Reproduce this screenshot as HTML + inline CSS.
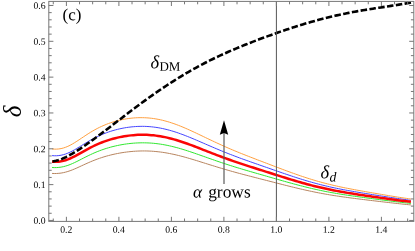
<!DOCTYPE html>
<html><head><meta charset="utf-8"><title>plot</title>
<style>
html,body{margin:0;padding:0;background:#fff;}
body{width:415px;height:251px;overflow:hidden;position:relative;font-family:"Liberation Serif",serif;}
svg{display:block;position:absolute;left:0;top:0}
svg.t{filter:grayscale(1)}
text{font-family:"Liberation Serif",serif;}
</style></head><body>
<svg width="415" height="251" viewBox="0 0 415 251">
<rect width="415" height="251" fill="#fff"/>
<path d="M52.05 173.43 L54.31 173.52 L56.57 173.49 L58.82 173.34 L61.08 173.07 L63.34 172.66 L65.60 172.13 L67.85 171.48 L70.11 170.73 L72.37 169.87 L74.62 168.94 L76.88 167.96 L79.14 166.93 L81.39 165.89 L83.65 164.85 L85.91 163.82 L88.16 162.80 L90.42 161.82 L92.68 160.88 L94.94 159.99 L97.19 159.13 L99.45 158.33 L101.71 157.58 L103.96 156.87 L106.22 156.20 L108.48 155.58 L110.73 155.00 L112.99 154.46 L115.25 153.96 L117.51 153.50 L119.76 153.08 L122.02 152.70 L124.28 152.35 L126.53 152.05 L128.79 151.78 L131.05 151.55 L133.30 151.35 L135.56 151.19 L137.82 151.07 L140.08 150.99 L142.33 150.95 L144.59 150.95 L146.85 150.98 L149.10 151.06 L151.36 151.17 L153.62 151.33 L155.87 151.52 L158.13 151.76 L160.39 152.03 L162.65 152.34 L164.90 152.68 L167.16 153.07 L169.42 153.49 L171.67 153.94 L173.93 154.42 L176.19 154.93 L178.44 155.48 L180.70 156.05 L182.96 156.64 L185.21 157.26 L187.47 157.90 L189.73 158.55 L191.99 159.22 L194.24 159.90 L196.50 160.59 L198.76 161.29 L201.01 162.00 L203.27 162.70 L205.53 163.41 L207.78 164.12 L210.04 164.83 L212.30 165.53 L214.56 166.23 L216.81 166.92 L219.07 167.61 L221.33 168.28 L223.58 168.96 L225.84 169.62 L228.10 170.27 L230.35 170.92 L232.61 171.55 L234.87 172.18 L237.13 172.80 L239.38 173.41 L241.64 174.01 L243.90 174.61 L246.15 175.20 L248.41 175.79 L250.67 176.37 L252.92 176.95 L255.18 177.53 L257.44 178.11 L259.69 178.69 L261.95 179.27 L264.21 179.85 L266.47 180.43 L268.72 181.01 L270.98 181.59 L273.24 182.17 L275.49 182.75 L277.75 183.33 L280.01 183.90 L282.26 184.48 L284.52 185.05 L286.78 185.62 L289.04 186.18 L291.29 186.74 L293.55 187.29 L295.81 187.84 L298.06 188.38 L300.32 188.91 L302.58 189.43 L304.83 189.94 L307.09 190.45 L309.35 190.94 L311.61 191.42 L313.86 191.89 L316.12 192.35 L318.38 192.79 L320.63 193.22 L322.89 193.65 L325.15 194.05 L327.40 194.45 L329.66 194.84 L331.92 195.21 L334.17 195.57 L336.43 195.92 L338.69 196.26 L340.95 196.60 L343.20 196.92 L345.46 197.23 L347.72 197.54 L349.97 197.84 L352.23 198.14 L354.49 198.43 L356.74 198.71 L359.00 198.99 L361.26 199.27 L363.52 199.55 L365.77 199.82 L368.03 200.10 L370.29 200.37 L372.54 200.64 L374.80 200.91 L377.06 201.17 L379.31 201.44 L381.57 201.71 L383.83 201.97 L386.09 202.23 L388.34 202.49 L390.60 202.75 L392.86 203.01 L395.11 203.26 L397.37 203.51 L399.63 203.76 L401.88 204.00 L404.14 204.24 L406.40 204.47 L408.65 204.69 L410.91 204.91" fill="none" stroke="#b8855f" stroke-width="1"/>
<path d="M52.05 167.49 L54.31 167.60 L56.57 167.58 L58.82 167.42 L61.08 167.12 L63.34 166.68 L65.60 166.09 L67.85 165.38 L70.11 164.54 L72.37 163.59 L74.62 162.56 L76.88 161.46 L79.14 160.33 L81.39 159.17 L83.65 158.01 L85.91 156.86 L88.16 155.74 L90.42 154.66 L92.68 153.61 L94.94 152.62 L97.19 151.68 L99.45 150.80 L101.71 149.96 L103.96 149.18 L106.22 148.45 L108.48 147.77 L110.73 147.13 L112.99 146.54 L115.25 146.00 L117.51 145.50 L119.76 145.05 L122.02 144.63 L124.28 144.26 L126.53 143.93 L128.79 143.65 L131.05 143.40 L133.30 143.20 L135.56 143.04 L137.82 142.92 L140.08 142.85 L142.33 142.81 L144.59 142.83 L146.85 142.88 L149.10 142.98 L151.36 143.12 L153.62 143.31 L155.87 143.54 L158.13 143.82 L160.39 144.13 L162.65 144.49 L164.90 144.90 L167.16 145.34 L169.42 145.82 L171.67 146.33 L173.93 146.89 L176.19 147.47 L178.44 148.09 L180.70 148.74 L182.96 149.41 L185.21 150.11 L187.47 150.84 L189.73 151.58 L191.99 152.33 L194.24 153.10 L196.50 153.88 L198.76 154.67 L201.01 155.47 L203.27 156.27 L205.53 157.06 L207.78 157.86 L210.04 158.66 L212.30 159.45 L214.56 160.24 L216.81 161.02 L219.07 161.79 L221.33 162.55 L223.58 163.31 L225.84 164.05 L228.10 164.79 L230.35 165.51 L232.61 166.23 L234.87 166.93 L237.13 167.63 L239.38 168.31 L241.64 168.99 L243.90 169.66 L246.15 170.32 L248.41 170.98 L250.67 171.64 L252.92 172.29 L255.18 172.94 L257.44 173.59 L259.69 174.24 L261.95 174.89 L264.21 175.53 L266.47 176.18 L268.72 176.83 L270.98 177.48 L273.24 178.13 L275.49 178.78 L277.75 179.42 L280.01 180.07 L282.26 180.71 L284.52 181.35 L286.78 181.98 L289.04 182.61 L291.29 183.23 L293.55 183.85 L295.81 184.46 L298.06 185.06 L300.32 185.65 L302.58 186.23 L304.83 186.80 L307.09 187.36 L309.35 187.91 L311.61 188.44 L313.86 188.97 L316.12 189.47 L318.38 189.97 L320.63 190.45 L322.89 190.92 L325.15 191.38 L327.40 191.82 L329.66 192.25 L331.92 192.66 L334.17 193.06 L336.43 193.46 L338.69 193.83 L340.95 194.20 L343.20 194.56 L345.46 194.91 L347.72 195.25 L349.97 195.59 L352.23 195.92 L354.49 196.24 L356.74 196.56 L359.00 196.87 L361.26 197.18 L363.52 197.49 L365.77 197.79 L368.03 198.10 L370.29 198.40 L372.54 198.70 L374.80 199.00 L377.06 199.29 L379.31 199.59 L381.57 199.88 L383.83 200.18 L386.09 200.47 L388.34 200.76 L390.60 201.04 L392.86 201.33 L395.11 201.61 L397.37 201.89 L399.63 202.16 L401.88 202.43 L404.14 202.69 L406.40 202.94 L408.65 203.19 L410.91 203.43" fill="none" stroke="#30e830" stroke-width="1"/>
<path d="M52.05 155.61 L54.31 155.76 L56.57 155.75 L58.82 155.57 L61.08 155.22 L63.34 154.70 L65.60 154.00 L67.85 153.14 L70.11 152.13 L72.37 150.99 L74.62 149.75 L76.88 148.43 L79.14 147.06 L81.39 145.67 L83.65 144.28 L85.91 142.90 L88.16 141.55 L90.42 140.25 L92.68 139.00 L94.94 137.81 L97.19 136.68 L99.45 135.63 L101.71 134.64 L103.96 133.71 L106.22 132.84 L108.48 132.03 L110.73 131.28 L112.99 130.58 L115.25 129.94 L117.51 129.36 L119.76 128.83 L122.02 128.35 L124.28 127.92 L126.53 127.54 L128.79 127.22 L131.05 126.94 L133.30 126.72 L135.56 126.55 L137.82 126.43 L140.08 126.36 L142.33 126.34 L144.59 126.37 L146.85 126.46 L149.10 126.60 L151.36 126.80 L153.62 127.05 L155.87 127.35 L158.13 127.70 L160.39 128.11 L162.65 128.56 L164.90 129.07 L167.16 129.62 L169.42 130.22 L171.67 130.87 L173.93 131.55 L176.19 132.28 L178.44 133.05 L180.70 133.85 L182.96 134.68 L185.21 135.55 L187.47 136.44 L189.73 137.35 L191.99 138.28 L194.24 139.23 L196.50 140.18 L198.76 141.15 L201.01 142.13 L203.27 143.10 L205.53 144.08 L207.78 145.06 L210.04 146.03 L212.30 147.00 L214.56 147.96 L216.81 148.92 L219.07 149.86 L221.33 150.80 L223.58 151.72 L225.84 152.63 L228.10 153.53 L230.35 154.41 L232.61 155.28 L234.87 156.14 L237.13 156.99 L239.38 157.83 L241.64 158.66 L243.90 159.47 L246.15 160.28 L248.41 161.09 L250.67 161.88 L252.92 162.68 L255.18 163.47 L257.44 164.26 L259.69 165.05 L261.95 165.84 L264.21 166.62 L266.47 167.41 L268.72 168.20 L270.98 168.98 L273.24 169.77 L275.49 170.56 L277.75 171.34 L280.01 172.12 L282.26 172.90 L284.52 173.67 L286.78 174.44 L289.04 175.20 L291.29 175.95 L293.55 176.70 L295.81 177.43 L298.06 178.16 L300.32 178.87 L302.58 179.57 L304.83 180.26 L307.09 180.94 L309.35 181.60 L311.61 182.24 L313.86 182.87 L316.12 183.49 L318.38 184.09 L320.63 184.67 L322.89 185.23 L325.15 185.78 L327.40 186.31 L329.66 186.83 L331.92 187.33 L334.17 187.82 L336.43 188.29 L338.69 188.75 L340.95 189.19 L343.20 189.63 L345.46 190.05 L347.72 190.46 L349.97 190.86 L352.23 191.26 L354.49 191.65 L356.74 192.03 L359.00 192.41 L361.26 192.78 L363.52 193.16 L365.77 193.52 L368.03 193.89 L370.29 194.25 L372.54 194.61 L374.80 194.97 L377.06 195.33 L379.31 195.68 L381.57 196.03 L383.83 196.39 L386.09 196.74 L388.34 197.08 L390.60 197.43 L392.86 197.77 L395.11 198.11 L397.37 198.44 L399.63 198.76 L401.88 199.09 L404.14 199.40 L406.40 199.70 L408.65 200.00 L410.91 200.28" fill="none" stroke="#4545ff" stroke-width="1"/>
<path d="M52.05 148.95 L54.31 149.13 L56.57 149.14 L58.82 148.96 L61.08 148.59 L63.34 148.03 L65.60 147.28 L67.85 146.35 L70.11 145.25 L72.37 144.02 L74.62 142.67 L76.88 141.24 L79.14 139.76 L81.39 138.25 L83.65 136.74 L85.91 135.24 L88.16 133.78 L90.42 132.37 L92.68 131.02 L94.94 129.74 L97.19 128.53 L99.45 127.39 L101.71 126.33 L103.96 125.33 L106.22 124.40 L108.48 123.54 L110.73 122.74 L112.99 122.00 L115.25 121.32 L117.51 120.71 L119.76 120.15 L122.02 119.65 L124.28 119.20 L126.53 118.81 L128.79 118.48 L131.05 118.21 L133.30 117.99 L135.56 117.82 L137.82 117.71 L140.08 117.66 L142.33 117.67 L144.59 117.73 L146.85 117.85 L149.10 118.03 L151.36 118.26 L153.62 118.56 L155.87 118.91 L158.13 119.32 L160.39 119.78 L162.65 120.31 L164.90 120.88 L167.16 121.51 L169.42 122.18 L171.67 122.91 L173.93 123.68 L176.19 124.49 L178.44 125.35 L180.70 126.24 L182.96 127.17 L185.21 128.13 L187.47 129.12 L189.73 130.13 L191.99 131.16 L194.24 132.21 L196.50 133.27 L198.76 134.35 L201.01 135.42 L203.27 136.50 L205.53 137.58 L207.78 138.66 L210.04 139.74 L212.30 140.81 L214.56 141.87 L216.81 142.92 L219.07 143.96 L221.33 144.99 L223.58 146.01 L225.84 147.01 L228.10 148.00 L230.35 148.97 L232.61 149.93 L234.87 150.88 L237.13 151.81 L239.38 152.73 L241.64 153.64 L243.90 154.54 L246.15 155.43 L248.41 156.32 L250.67 157.19 L252.92 158.06 L255.18 158.93 L257.44 159.80 L259.69 160.66 L261.95 161.53 L264.21 162.39 L266.47 163.25 L268.72 164.11 L270.98 164.98 L273.24 165.84 L275.49 166.70 L277.75 167.55 L280.01 168.40 L282.26 169.25 L284.52 170.10 L286.78 170.93 L289.04 171.76 L291.29 172.58 L293.55 173.40 L295.81 174.20 L298.06 174.99 L300.32 175.77 L302.58 176.53 L304.83 177.28 L307.09 178.02 L309.35 178.73 L311.61 179.44 L313.86 180.12 L316.12 180.79 L318.38 181.44 L320.63 182.07 L322.89 182.69 L325.15 183.28 L327.40 183.86 L329.66 184.43 L331.92 184.97 L334.17 185.50 L336.43 186.01 L338.69 186.51 L340.95 187.00 L343.20 187.47 L345.46 187.93 L347.72 188.37 L349.97 188.81 L352.23 189.24 L354.49 189.67 L356.74 190.08 L359.00 190.49 L361.26 190.90 L363.52 191.30 L365.77 191.70 L368.03 192.10 L370.29 192.49 L372.54 192.88 L374.80 193.27 L377.06 193.66 L379.31 194.04 L381.57 194.43 L383.83 194.81 L386.09 195.19 L388.34 195.56 L390.60 195.93 L392.86 196.30 L395.11 196.67 L397.37 197.02 L399.63 197.38 L401.88 197.72 L404.14 198.06 L406.40 198.39 L408.65 198.71 L410.91 199.02" fill="none" stroke="#ffa040" stroke-width="1"/>
<path d="M52.05 161.73 L54.31 161.86 L56.57 161.84 L58.82 161.67 L61.08 161.35 L63.34 160.86 L65.60 160.22 L67.85 159.43 L70.11 158.51 L72.37 157.47 L74.62 156.33 L76.88 155.13 L79.14 153.88 L81.39 152.61 L83.65 151.33 L85.91 150.07 L88.16 148.84 L90.42 147.65 L92.68 146.50 L94.94 145.41 L97.19 144.38 L99.45 143.41 L101.71 142.50 L103.96 141.64 L106.22 140.84 L108.48 140.10 L110.73 139.41 L112.99 138.76 L115.25 138.17 L117.51 137.63 L119.76 137.14 L122.02 136.69 L124.28 136.29 L126.53 135.94 L128.79 135.63 L131.05 135.37 L133.30 135.15 L135.56 134.99 L137.82 134.86 L140.08 134.79 L142.33 134.76 L144.59 134.78 L146.85 134.85 L149.10 134.97 L151.36 135.14 L153.62 135.35 L155.87 135.62 L158.13 135.93 L160.39 136.29 L162.65 136.69 L164.90 137.14 L167.16 137.64 L169.42 138.18 L171.67 138.75 L173.93 139.37 L176.19 140.03 L178.44 140.72 L180.70 141.44 L182.96 142.19 L185.21 142.97 L187.47 143.77 L189.73 144.59 L191.99 145.43 L194.24 146.29 L196.50 147.16 L198.76 148.03 L201.01 148.91 L203.27 149.80 L205.53 150.68 L207.78 151.57 L210.04 152.45 L212.30 153.33 L214.56 154.20 L216.81 155.06 L219.07 155.92 L221.33 156.76 L223.58 157.60 L225.84 158.42 L228.10 159.24 L230.35 160.04 L232.61 160.83 L234.87 161.61 L237.13 162.38 L239.38 163.14 L241.64 163.89 L243.90 164.63 L246.15 165.37 L248.41 166.10 L250.67 166.82 L252.92 167.54 L255.18 168.26 L257.44 168.98 L259.69 169.70 L261.95 170.41 L264.21 171.13 L266.47 171.84 L268.72 172.56 L270.98 173.28 L273.24 173.99 L275.49 174.71 L277.75 175.42 L280.01 176.13 L282.26 176.84 L284.52 177.54 L286.78 178.24 L289.04 178.94 L291.29 179.62 L293.55 180.30 L295.81 180.97 L298.06 181.63 L300.32 182.29 L302.58 182.93 L304.83 183.55 L307.09 184.17 L309.35 184.77 L311.61 185.36 L313.86 185.94 L316.12 186.50 L318.38 187.04 L320.63 187.58 L322.89 188.09 L325.15 188.59 L327.40 189.08 L329.66 189.55 L331.92 190.01 L334.17 190.45 L336.43 190.88 L338.69 191.30 L340.95 191.71 L343.20 192.10 L345.46 192.49 L347.72 192.86 L349.97 193.23 L352.23 193.59 L354.49 193.95 L356.74 194.30 L359.00 194.64 L361.26 194.98 L363.52 195.32 L365.77 195.66 L368.03 195.99 L370.29 196.32 L372.54 196.65 L374.80 196.98 L377.06 197.31 L379.31 197.63 L381.57 197.96 L383.83 198.28 L386.09 198.60 L388.34 198.92 L390.60 199.23 L392.86 199.54 L395.11 199.85 L397.37 200.16 L399.63 200.46 L401.88 200.75 L404.14 201.04 L406.40 201.32 L408.65 201.59 L410.91 201.85" fill="none" stroke="#fa0505" stroke-width="2.5"/>
<path d="M51.90 161.47 L53.91 161.22 L55.91 160.82 L57.92 160.29 L59.92 159.64 L61.93 158.88 L63.94 158.03 L65.94 157.08 L67.95 156.07 L69.96 154.98 L71.96 153.84 L73.97 152.64 L75.97 151.40 L77.98 150.12 L79.99 148.81 L81.99 147.47 L84.00 146.10 L86.00 144.71 L88.01 143.30 L90.02 141.88 L92.02 140.43 L94.03 138.97 L96.04 137.50 L98.04 136.01 L100.05 134.52 L102.05 133.01 L104.06 131.49 L106.07 129.97 L108.07 128.44 L110.08 126.91 L112.08 125.37 L114.09 123.83 L116.10 122.29 L118.10 120.75 L120.11 119.21 L122.12 117.68 L124.12 116.14 L126.13 114.61 L128.13 113.08 L130.14 111.56 L132.15 110.04 L134.15 108.53 L136.16 107.03 L138.16 105.53 L140.17 104.05 L142.18 102.57 L144.18 101.10 L146.19 99.64 L148.19 98.20 L150.20 96.76 L152.21 95.33 L154.21 93.92 L156.22 92.52 L158.23 91.13 L160.23 89.76 L162.24 88.40 L164.24 87.05 L166.25 85.72 L168.26 84.40 L170.26 83.09 L172.27 81.80 L174.27 80.53 L176.28 79.27 L178.29 78.02 L180.29 76.79 L182.30 75.58 L184.31 74.38 L186.31 73.20 L188.32 72.03 L190.32 70.88 L192.33 69.75 L194.34 68.63 L196.34 67.52 L198.35 66.43 L200.35 65.36 L202.36 64.30 L204.37 63.26 L206.37 62.23 L208.38 61.21 L210.39 60.21 L212.39 59.23 L214.40 58.25 L216.40 57.30 L218.41 56.35 L220.42 55.42 L222.42 54.50 L224.43 53.59 L226.43 52.69 L228.44 51.80 L230.45 50.93 L232.45 50.06 L234.46 49.21 L236.47 48.36 L238.47 47.52 L240.48 46.70 L242.48 45.88 L244.49 45.07 L246.50 44.26 L248.50 43.47 L250.51 42.68 L252.51 41.90 L254.52 41.12 L256.53 40.35 L258.53 39.59 L260.54 38.84 L262.55 38.09 L264.55 37.35 L266.56 36.61 L268.56 35.88 L270.57 35.16 L272.58 34.44 L274.58 33.73 L276.59 33.02 L278.59 32.32 L280.60 31.63 L282.61 30.94 L284.61 30.26 L286.62 29.59 L288.63 28.92 L290.63 28.26 L292.64 27.61 L294.64 26.96 L296.65 26.32 L298.66 25.69 L300.66 25.06 L302.67 24.45 L304.67 23.84 L306.68 23.24 L308.69 22.65 L310.69 22.07 L312.70 21.50 L314.71 20.93 L316.71 20.38 L318.72 19.84 L320.72 19.30 L322.73 18.78 L324.74 18.26 L326.74 17.76 L328.75 17.27 L330.75 16.78 L332.76 16.31 L334.77 15.85 L336.77 15.39 L338.78 14.95 L340.78 14.51 L342.79 14.09 L344.80 13.67 L346.80 13.26 L348.81 12.86 L350.82 12.47 L352.82 12.09 L354.83 11.72 L356.83 11.35 L358.84 10.99 L360.85 10.64 L362.85 10.30 L364.86 9.96 L366.86 9.63 L368.87 9.30 L370.88 8.98 L372.88 8.66 L374.89 8.34 L376.90 8.03 L378.90 7.72 L380.91 7.41 L382.91 7.11 L384.92 6.80 L386.93 6.50 L388.93 6.19 L390.94 5.89 L392.94 5.58 L394.95 5.26 L396.96 4.95 L398.96 4.63 L400.97 4.30 L402.98 3.97 L404.98 3.63 L406.99 3.29 L408.99 2.93 L411.00 2.57" fill="none" stroke="#000" stroke-width="2.6" stroke-dasharray="6.5 2.4" stroke-dashoffset="8.29"/>
<line x1="276.40" y1="1.4" x2="276.40" y2="221.4" stroke="#555" stroke-width="1"/>
<line x1="224.0" y1="130" x2="224.0" y2="183.9" stroke="#555" stroke-width="1.15"/>
<path d="M224.0 120.2 L228.2 134.7 L224.0 133.0 L219.8 134.7 Z" fill="#000"/>
<rect x="48.8" y="1.4" width="365.0" height="220.0" fill="none" stroke="#777" stroke-width="1"/>
<path d="M53.28 221.4 v-2.9 M53.28 1.4 v2.9 M66.40 221.4 v-4.6 M66.40 1.4 v4.6 M79.53 221.4 v-2.9 M79.53 1.4 v2.9 M92.65 221.4 v-2.9 M92.65 1.4 v2.9 M105.78 221.4 v-2.9 M105.78 1.4 v2.9 M118.90 221.4 v-4.6 M118.90 1.4 v4.6 M132.03 221.4 v-2.9 M132.03 1.4 v2.9 M145.15 221.4 v-2.9 M145.15 1.4 v2.9 M158.28 221.4 v-2.9 M158.28 1.4 v2.9 M171.40 221.4 v-4.6 M171.40 1.4 v4.6 M184.53 221.4 v-2.9 M184.53 1.4 v2.9 M197.65 221.4 v-2.9 M197.65 1.4 v2.9 M210.78 221.4 v-2.9 M210.78 1.4 v2.9 M223.90 221.4 v-4.6 M223.90 1.4 v4.6 M237.03 221.4 v-2.9 M237.03 1.4 v2.9 M250.15 221.4 v-2.9 M250.15 1.4 v2.9 M263.28 221.4 v-2.9 M263.28 1.4 v2.9 M276.40 221.4 v-4.6 M276.40 1.4 v4.6 M289.52 221.4 v-2.9 M289.52 1.4 v2.9 M302.65 221.4 v-2.9 M302.65 1.4 v2.9 M315.78 221.4 v-2.9 M315.78 1.4 v2.9 M328.90 221.4 v-4.6 M328.90 1.4 v4.6 M342.02 221.4 v-2.9 M342.02 1.4 v2.9 M355.15 221.4 v-2.9 M355.15 1.4 v2.9 M368.27 221.4 v-2.9 M368.27 1.4 v2.9 M381.40 221.4 v-4.6 M381.40 1.4 v4.6 M394.53 221.4 v-2.9 M394.53 1.4 v2.9 M407.65 221.4 v-2.9 M407.65 1.4 v2.9 M48.8 220.45 h4.6 M413.8 220.45 h-4.6 M48.8 213.28 h2.9 M413.8 213.28 h-2.9 M48.8 206.12 h2.9 M413.8 206.12 h-2.9 M48.8 198.95 h2.9 M413.8 198.95 h-2.9 M48.8 191.79 h2.9 M413.8 191.79 h-2.9 M48.8 184.62 h4.6 M413.8 184.62 h-4.6 M48.8 177.45 h2.9 M413.8 177.45 h-2.9 M48.8 170.29 h2.9 M413.8 170.29 h-2.9 M48.8 163.12 h2.9 M413.8 163.12 h-2.9 M48.8 155.96 h2.9 M413.8 155.96 h-2.9 M48.8 148.79 h4.6 M413.8 148.79 h-4.6 M48.8 141.62 h2.9 M413.8 141.62 h-2.9 M48.8 134.46 h2.9 M413.8 134.46 h-2.9 M48.8 127.29 h2.9 M413.8 127.29 h-2.9 M48.8 120.13 h2.9 M413.8 120.13 h-2.9 M48.8 112.96 h4.6 M413.8 112.96 h-4.6 M48.8 105.79 h2.9 M413.8 105.79 h-2.9 M48.8 98.63 h2.9 M413.8 98.63 h-2.9 M48.8 91.46 h2.9 M413.8 91.46 h-2.9 M48.8 84.30 h2.9 M413.8 84.30 h-2.9 M48.8 77.13 h4.6 M413.8 77.13 h-4.6 M48.8 69.96 h2.9 M413.8 69.96 h-2.9 M48.8 62.80 h2.9 M413.8 62.80 h-2.9 M48.8 55.63 h2.9 M413.8 55.63 h-2.9 M48.8 48.47 h2.9 M413.8 48.47 h-2.9 M48.8 41.30 h4.6 M413.8 41.30 h-4.6 M48.8 34.13 h2.9 M413.8 34.13 h-2.9 M48.8 26.97 h2.9 M413.8 26.97 h-2.9 M48.8 19.80 h2.9 M413.8 19.80 h-2.9 M48.8 12.64 h2.9 M413.8 12.64 h-2.9 M48.8 5.47 h4.6 M413.8 5.47 h-4.6" stroke="#777" stroke-width="1" fill="none"/>
</svg>
<svg class="t" width="415" height="251" viewBox="0 0 415 251">
<text x="66.20" y="232.8" transform="rotate(0.03 66.4 233)" font-size="9.7" text-anchor="middle" fill="#000">0.2</text>
<text x="118.70" y="232.8" transform="rotate(0.03 118.9 233)" font-size="9.7" text-anchor="middle" fill="#000">0.4</text>
<text x="171.20" y="232.8" transform="rotate(0.03 171.4 233)" font-size="9.7" text-anchor="middle" fill="#000">0.6</text>
<text x="223.70" y="232.8" transform="rotate(0.03 223.9 233)" font-size="9.7" text-anchor="middle" fill="#000">0.8</text>
<text x="276.20" y="232.8" transform="rotate(0.03 276.4 233)" font-size="9.7" text-anchor="middle" fill="#000">1.0</text>
<text x="328.70" y="232.8" transform="rotate(0.03 328.9 233)" font-size="9.7" text-anchor="middle" fill="#000">1.2</text>
<text x="381.20" y="232.8" transform="rotate(0.03 381.4 233)" font-size="9.7" text-anchor="middle" fill="#000">1.4</text>
<text x="45.5" y="223.85" transform="rotate(0.03 45 220.4)" font-size="9.7" text-anchor="end" fill="#000">0.0</text>
<text x="45.5" y="188.02" transform="rotate(0.03 45 184.6)" font-size="9.7" text-anchor="end" fill="#000">0.1</text>
<text x="45.5" y="152.19" transform="rotate(0.03 45 148.8)" font-size="9.7" text-anchor="end" fill="#000">0.2</text>
<text x="45.5" y="116.36" transform="rotate(0.03 45 113.0)" font-size="9.7" text-anchor="end" fill="#000">0.3</text>
<text x="45.5" y="80.53" transform="rotate(0.03 45 77.1)" font-size="9.7" text-anchor="end" fill="#000">0.4</text>
<text x="45.5" y="44.70" transform="rotate(0.03 45 41.3)" font-size="9.7" text-anchor="end" fill="#000">0.5</text>
<text x="45.5" y="8.87" transform="rotate(0.03 45 5.5)" font-size="9.7" text-anchor="end" fill="#000">0.6</text>
<text x="62.6" y="20.3" transform="rotate(0.03 62.6 20.3)" font-size="17" fill="#000">(c)</text>
<text x="193" y="197.6" transform="rotate(0.03 193 197.6)" font-size="17.4" fill="#000"><tspan font-style="italic">α</tspan><tspan dx="1.7"> grows</tspan></text>
<text x="150.6" y="68.2" transform="rotate(0.03 150.6 68.2)" font-size="18.5" font-style="italic" fill="#000">δ</text>
<text x="159.4" y="70.8" transform="rotate(0.03 159.4 70.8)" font-size="13" fill="#000">DM</text>
<text x="320.6" y="178.2" transform="rotate(0.03 320.6 178.2)" font-size="18.5" font-style="italic" fill="#000">δ</text>
<text x="329.6" y="181.5" transform="rotate(0.03 330 181.2)" font-size="13.8" font-style="italic" fill="#000">d</text>
<text transform="translate(21,117.2) rotate(-90)" font-size="25" font-style="italic" fill="#000">δ</text>
</svg></body></html>
